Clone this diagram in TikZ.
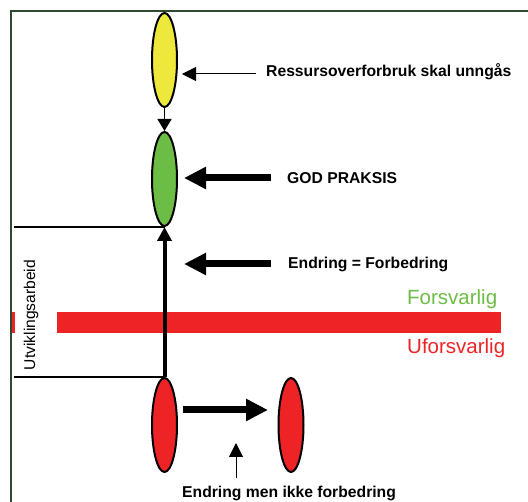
\documentclass[tikz,border=0pt]{standalone}
\usepackage{fontspec}
\setmainfont{Liberation Sans}
\usetikzlibrary{shapes.geometric,arrows.meta}
\definecolor{yel}{HTML}{EEE83C}
\definecolor{grn}{HTML}{6CBD45}
\definecolor{rd}{HTML}{EE2326}
\definecolor{frame}{HTML}{2E4A2E}
\tikzset{
  oval/.style={ellipse, draw=black, line width=2pt, minimum width=25pt, minimum height=94pt, inner sep=0pt},
  lbl/.style={font=\fontsize{15.7}{18}\selectfont\bfseries, inner sep=0pt, anchor=base west},
  bigarrow/.style={line width=7pt, -{Triangle[length=22pt,width=21pt]}},
  thinarrow/.style={line width=1pt, -{Triangle[length=14pt,width=14pt]}},
}
\begin{document}
\begin{tikzpicture}[x=1pt,y=-1pt]
\useasboundingbox (0,0) rectangle (528,502);
% red line
\fill[rd] (57,312) rectangle (501,333);
\fill[rd] (12,312) rectangle (14.5,333);
% frame
\draw[frame, line width=1.5pt] (11,502) -- (11,11) -- (528,11);
% ovals
\node[oval, fill=yel] (y) at (164.5,60) {};
\node[oval, fill=grn] (g) at (164.5,179) {};
\node[oval, fill=rd] (r1) at (164.5,425) {};
\node[oval, fill=rd] (r2) at (291,425) {};
% bracket lines
\path (g.south) ++(-150.5,0) coordinate (tl);
\path (r1.north) ++(-150.5,0) coordinate (bl);
\draw[line width=1.5pt] (tl) -- (g.south);
\draw[line width=1.5pt] (bl) -- (r1.north);
\node[rotate=90, font=\fontsize{15.6}{18}\selectfont, inner sep=0pt] (u) at (31,315) {Utviklingsarbeid};
% vertical arrows
\draw[line width=1.5pt, -{Triangle[length=12pt,width=14pt]}] (y.south) -- (g.north);
\draw[line width=4pt, -{Triangle[length=14pt,width=14pt]}] (r1.north) -- (g.south);
% labels
\node[lbl] (t1) at (266,77) {Ressursoverforbruk skal unngås};
\node[lbl] (t2) at (287,184) {GOD PRAKSIS};
\node[lbl] (t3) at (288,269) {Endring = Forbedring};
\node[lbl] (t4) at (182,498) {Endring men ikke forbedring};
\node[font=\fontsize{20.5}{24}\selectfont, text=grn, inner sep=0pt, anchor=base west] (f1) at (407,305) {Forsvarlig};
\node[font=\fontsize{20.5}{24}\selectfont, text=rd, inner sep=0pt, anchor=base west] (f2) at (407,354) {Uforsvarlig};
% label arrows
\coordinate (a1s) at (256,74);
\coordinate (a1e) at (182,74);
\draw[thinarrow] (a1s) -- (a1e);
\coordinate (a2s) at (271,178);
\coordinate (a2e) at (184,178);
\draw[bigarrow] (a2s) -- (a2e);
\coordinate (a3s) at (271,264);
\coordinate (a3e) at (184,264);
\draw[bigarrow] (a3s) -- (a3e);
\coordinate (a4s) at (183,410);
\coordinate (a4e) at (268,410);
\draw[bigarrow] (a4s) -- (a4e);
\coordinate (a5s) at (236,478);
\coordinate (a5e) at (236,443);
\draw[thinarrow] (a5s) -- (a5e);
\end{tikzpicture}
\end{document}
